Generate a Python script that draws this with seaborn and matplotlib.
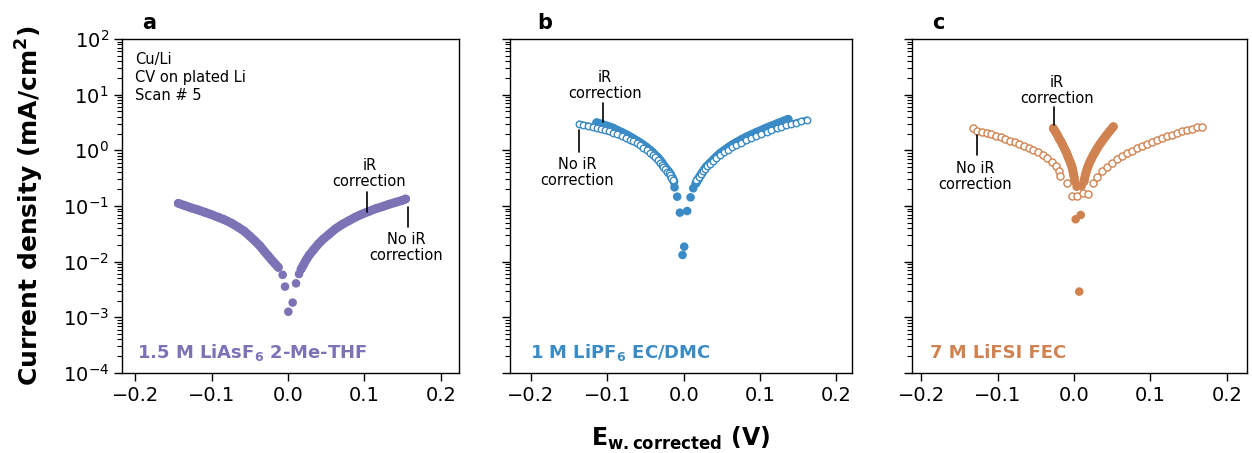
import numpy as np
import pandas as pd
import matplotlib
matplotlib.use("Agg")
import matplotlib.pyplot as plt
from matplotlib.ticker import LogLocator, NullFormatter
import seaborn as sns

# ---------------- data (E in V, current density in mA/cm^2) ----------------
# Panel a: 1.5 M LiAsF6 2-Me-THF (iR corrected, filled) -- split in branches
a_left_x = [-0.1436, -0.1348, -0.1261, -0.1174, -0.1086, -0.0999, -0.0912, -0.0825,
            -0.0737, -0.0650, -0.0576, -0.0497, -0.0432, -0.0366, -0.0310, -0.0257,
            -0.0214, -0.0170, -0.0127]
a_left_y = [0.1117, 0.1014, 0.0920, 0.0848, 0.0769, 0.0698, 0.0626, 0.0561,
            0.0489, 0.0414, 0.0356, 0.0285, 0.0235, 0.0191, 0.0153, 0.01265,
            0.0107, 0.0092, 0.0079]
a_mid_x = [-0.0070, -0.0039, 0.0004, 0.0061, 0.0105, 0.0144]
a_mid_y = [0.0058, 0.00356, 0.00126, 0.00184, 0.00408, 0.0060]
a_right_x = [0.0170, 0.0201, 0.0236, 0.0279, 0.0332, 0.0397, 0.0462,
             0.0541, 0.0624, 0.0711, 0.0798, 0.0886, 0.0973, 0.1060, 0.1148, 0.1235,
             0.1322, 0.1409, 0.1497, 0.1540]
a_right_y = [0.0073, 0.0087, 0.0107, 0.0132, 0.0162, 0.0208, 0.0255,
             0.0314, 0.0392, 0.0469, 0.0546, 0.0635, 0.0718, 0.0802, 0.0895, 0.0973,
             0.1072, 0.1164, 0.1265, 0.1337]

# Panel b: 1 M LiPF6 EC/DMC
b_left_x = [-0.1140, -0.1088, -0.1031, -0.0979, -0.0922, -0.0870, -0.0813, -0.0761,
            -0.0704, -0.0661, -0.0617, -0.0573, -0.0530, -0.0486, -0.0442, -0.0407,
            -0.0377, -0.0342, -0.0312, -0.0285, -0.0268, -0.0242, -0.0216, -0.0198,
            -0.0181, -0.0163, -0.0146, -0.0128]
b_left_y = [3.14, 2.97, 2.81, 2.66, 2.49, 2.29, 2.11, 1.94,
            1.76, 1.62, 1.49, 1.37, 1.25, 1.13, 1.01, 0.92,
            0.82, 0.75, 0.67, 0.60, 0.545, 0.495, 0.444, 0.414,
            0.386, 0.346, 0.314, 0.274]
b_mid_x = [-0.0120, -0.0085, -0.0050, 0.0007, -0.0015, 0.0046, 0.0090, 0.0125]
b_mid_y = [0.216, 0.147, 0.0759, 0.0186, 0.0132, 0.0813, 0.143, 0.208]
b_right_x = [0.0160, 0.0190, 0.0216, 0.0243, 0.0273, 0.0299,
             0.0343, 0.0387, 0.0430, 0.0474, 0.0526, 0.0583, 0.0635, 0.0692, 0.0757,
             0.0823, 0.0888, 0.0954, 0.1006, 0.1063, 0.1115, 0.1172, 0.1224, 0.1281,
             0.1325, 0.1368]
b_right_y = [0.255, 0.301, 0.346, 0.397, 0.456, 0.509,
             0.585, 0.67, 0.77, 0.871, 0.986, 1.12, 1.25, 1.39, 1.56,
             1.74, 1.91, 2.11, 2.25, 2.45, 2.62, 2.81, 3.01, 3.23,
             3.41, 3.61]
b_open_left_x = [-0.1367, -0.1315, -0.1250, -0.1193, -0.1140, -0.1088, -0.1031, -0.0979,
                 -0.0922, -0.0870, -0.0813, -0.0761, -0.0704, -0.0661, -0.0617, -0.0573,
                 -0.0530, -0.0486, -0.0442, -0.0407, -0.0377, -0.0342, -0.0312, -0.0285,
                 -0.0268, -0.0242, -0.0216, -0.0198, -0.0181, -0.0163, -0.0146]
b_open_left_y = [2.97, 2.85, 2.74, 2.62, 2.52, 2.42, 2.32, 2.19,
                 2.08, 1.94, 1.81, 1.69, 1.56, 1.45, 1.34, 1.23,
                 1.12, 1.01, 0.908, 0.824, 0.748, 0.67, 0.60, 0.545,
                 0.509, 0.462, 0.414, 0.386, 0.356, 0.323, 0.293]
b_open_right_x = [0.0168, 0.0195, 0.0221, 0.0247, 0.0277, 0.0308, 0.0343, 0.0387, 0.0430,
                  0.0474, 0.0526, 0.0583, 0.0635, 0.0692, 0.0757, 0.0823, 0.0888, 0.0954,
                  0.1019, 0.1085, 0.1150, 0.1216, 0.1281, 0.1346, 0.1412, 0.1477, 0.1543,
                  0.1617]
b_open_right_y = [0.293, 0.332, 0.376, 0.42, 0.469, 0.516, 0.577, 0.652, 0.728,
                  0.813, 0.92, 1.03, 1.13, 1.25, 1.37, 1.51, 1.67, 1.81,
                  1.96, 2.13, 2.32, 2.48, 2.66, 2.81, 2.97, 3.14, 3.32,
                  3.51]

# Panel c: 7 M LiFSI FEC
c_left_x = [-0.0271, -0.0244, -0.0218, -0.0196, -0.0170, -0.0148, -0.0127, -0.0105,
            -0.0087, -0.0070, -0.0052, -0.0035, -0.0022, -0.0013, -0.0004, 0.0004, 0.0013]
c_left_y = [2.49, 2.16, 1.89, 1.64, 1.43, 1.25, 1.09, 0.946,
            0.824, 0.718, 0.625, 0.545, 0.475, 0.414, 0.361, 0.314, 0.274]
c_mid_x = [0.0035, 0.0100, 0.0022, 0.0088, 0.0069]
c_mid_y = [0.222, 0.229, 0.0577, 0.069, 0.0029]
c_right_x = [0.0131, 0.0140, 0.0148, 0.0161, 0.0174, 0.0192, 0.0209, 0.0231, 0.0253,
             0.0279, 0.0305, 0.0332, 0.0362, 0.0393, 0.0428, 0.0471, 0.0515]
c_right_y = [0.274, 0.314, 0.361, 0.414, 0.475, 0.545, 0.625, 0.718, 0.824,
             0.946, 1.09, 1.25, 1.43, 1.64, 1.89, 2.25, 2.66]
c_open_x = [-0.1326, -0.1266, -0.1204, -0.1143, -0.1082, -0.1021, -0.0960, -0.0899,
            -0.0838, -0.0777, -0.0716, -0.0654, -0.0593, -0.0532, -0.0471, -0.0410,
            -0.0349, -0.0292, -0.0240, -0.0196, -0.0183, -0.0096,
            -0.0030, 0.0043, 0.0114, 0.0179,
            0.0253, 0.0305, 0.0363, 0.0428, 0.0493, 0.0559, 0.0624, 0.0690, 0.0755,
            0.0821, 0.0886, 0.0951, 0.1017, 0.1082, 0.1148, 0.1213, 0.1279, 0.1344,
            0.1410, 0.1475, 0.1541, 0.1606, 0.1671]
c_open_y = [2.49, 2.25, 2.14, 2.02, 1.94, 1.83, 1.71, 1.60,
            1.49, 1.39, 1.30, 1.20, 1.11, 1.01, 0.92, 0.82,
            0.73, 0.625, 0.53, 0.43, 0.35, 0.262,
            0.153, 0.151, 0.169, 0.164,
            0.256, 0.336, 0.426, 0.508, 0.60, 0.69, 0.79, 0.885, 0.986,
            1.10, 1.21, 1.32, 1.43, 1.55, 1.67, 1.79, 1.91, 2.05,
            2.20, 2.32, 2.45, 2.59, 2.66]

panel_letters = ["a", "b", "c"]
electrolytes = [r"1.5 M LiAsF$_\mathbf{6}$ 2-Me-THF",
                r"1 M LiPF$_\mathbf{6}$ EC/DMC",
                "7 M LiFSI FEC"]
colors = ["#7b73b6", "#3b8cc6", "#d08350"]
xticks = [-0.2, -0.1, 0.0, 0.1, 0.2]
ylabel = r"Current density (mA/cm$\mathbf{^2}$)"
xlabel = r"$\mathbf{E_{w.corrected}}$ (V)"
info_text = "Cu/Li\nCV on plated Li\nScan # 5"

# ---------------- style ----------------
sns.set_theme(style="ticks")
plt.rcParams["font.family"] = ["DejaVu Sans"]
plt.rcParams["mathtext.default"] = "regular"
plt.rcParams["text.color"] = "black"
plt.rcParams["axes.labelcolor"] = "black"

W, H = 1252, 453
fig = plt.figure(figsize=(W / 100, H / 100), dpi=100)
top_px, bot_px = 39, 373
boxes = [(122, 459), (510, 852), (912, 1247)]
xlims = [(-0.2173, 0.2238), (-0.2275, 0.2205), (-0.212, 0.2264)]

dense = [
    [(a_left_x, a_left_y), (a_right_x, a_right_y)],
    [(b_left_x, b_left_y), (b_right_x, b_right_y)],
    [(c_left_x, c_left_y), (c_right_x, c_right_y)],
]
sparse = [(a_mid_x, a_mid_y), (b_mid_x, b_mid_y), (c_mid_x, c_mid_y)]
open_dense = [[], [(b_open_left_x, b_open_left_y), (b_open_right_x, b_open_right_y)], []]
open_sparse = [None, None, (c_open_x, c_open_y)]

BAND_LW = 6.4      # band width of overlapping filled markers (pt)
DOT_S = 38         # filled marker area (pt^2)

axes = []
for i, (l, r) in enumerate(boxes):
    ax = fig.add_axes([l / W, 1 - bot_px / H, (r - l) / W, (bot_px - top_px) / H])
    axes.append(ax)
    col = colors[i]
    for bx, by in dense[i]:
        df = pd.DataFrame({"E": bx, "J": by})
        sns.lineplot(data=df, x="E", y="J", ax=ax, sort=False, estimator=None,
                     color=col, lw=BAND_LW, solid_capstyle="round", zorder=2)
        sns.scatterplot(data=df, x="E", y="J", ax=ax, color=col, s=DOT_S,
                        linewidth=0, edgecolor="none", zorder=2)
    mx, my = sparse[i]
    sns.scatterplot(x=mx, y=my, ax=ax, color=col, s=DOT_S, linewidth=0,
                    edgecolor="none", zorder=2)
    for bx, by in open_dense[i]:
        df = pd.DataFrame({"E": bx, "J": by})
        sns.lineplot(data=df, x="E", y="J", ax=ax, sort=False, estimator=None,
                     color=col, lw=5.0, solid_capstyle="round", zorder=3)
        sns.scatterplot(data=df, x="E", y="J", ax=ax, s=22, facecolor="white",
                        edgecolor=col, linewidth=1.0, zorder=3)
    if open_sparse[i] is not None:
        ox, oy = open_sparse[i]
        sns.scatterplot(x=ox, y=oy, ax=ax, s=26, facecolor="white",
                        edgecolor=col, linewidth=1.0, zorder=3)
    ax.set_yscale("log")
    ax.set_ylim(1e-4, 1e2)
    ax.set_xlim(*xlims[i])
    ax.set_xticks(xticks)
    ax.yaxis.set_major_locator(LogLocator(base=10, numticks=10))
    ax.yaxis.set_minor_locator(LogLocator(base=10, subs=np.arange(2, 10), numticks=20))
    ax.yaxis.set_minor_formatter(NullFormatter())
    ax.tick_params(axis="both", which="major", labelsize=14, length=6, width=1,
                   direction="out", color="black", labelcolor="black")
    ax.tick_params(axis="y", which="minor", length=3.5, width=0.8, color="black")
    for sp in ax.spines.values():
        sp.set_visible(True)
        sp.set_linewidth(1.0)
        sp.set_color("black")
    ax.set_xlabel("")
    ax.set_ylabel("")
    if i > 0:
        ax.tick_params(axis="y", labelleft=False)
    ax.text(0.06 if i != 1 else 0.08, 1.03, panel_letters[i], transform=ax.transAxes,
            fontsize=15, fontweight="bold", va="baseline", ha="left")
    ax.text(0.045 if i == 0 else 0.058 if i == 1 else 0.054, 0.045, electrolytes[i],
            transform=ax.transAxes, fontsize=13, fontweight="bold", color=col,
            ha="left", va="baseline")

axes[0].set_ylabel(ylabel, fontsize=18, fontweight="bold", labelpad=12)
axes[1].set_xlabel(xlabel, fontsize=17, fontweight="bold", labelpad=14)

axes[0].text(0.039, 0.962, info_text, transform=axes[0].transAxes, fontsize=10.5,
             va="top", ha="left", linespacing=1.25)

def annot(ax, xl, y0, y1, xt, yt, text, va):
    ax.plot([xl, xl], [y0, y1], color="black", lw=1.2, zorder=4)
    ax.text(xt, yt, text, ha="center", va=va, multialignment="center",
            fontsize=10.5, linespacing=1.1)

# panel a
annot(axes[0], 0.103, 0.181, 0.079, 0.1064, 0.20, "iR\ncorrection", "bottom")
annot(axes[0], 0.1567, 0.097, 0.0425, 0.1545, 0.034, "No iR\ncorrection", "top")
# panel b
annot(axes[1], -0.1062, 7.17, 3.27, -0.103, 7.7, "iR\ncorrection", "bottom")
annot(axes[1], -0.1372, 2.32, 0.946, -0.1398, 0.76, "No iR\ncorrection", "top")
# panel c
annot(axes[2], -0.0262, 6.0, 2.85, -0.0226, 6.3, "iR\ncorrection", "bottom")
annot(axes[2], -0.1266, 1.89, 0.82, -0.1296, 0.645, "No iR\ncorrection", "top")

fig.savefig("out.png", dpi=100)
